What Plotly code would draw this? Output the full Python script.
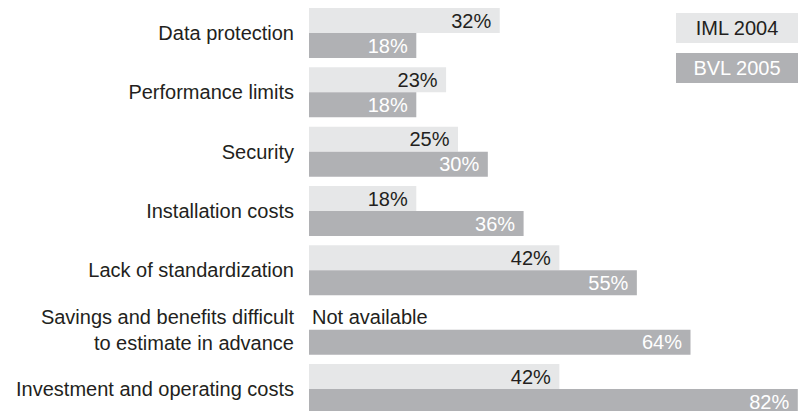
import plotly.graph_objects as go

categories = [
    "Data protection",
    "Performance limits",
    "Security",
    "Installation costs",
    "Lack of standardization",
    "Savings and benefits difficult<br>to estimate in advance",
    "Investment and operating costs",
]
iml_2004 = [32, 23, 25, 18, 42, None, 42]
bvl_2005 = [18, 18, 30, 36, 55, 64, 82]
series_names = ["IML 2004", "BVL 2005"]
missing_label = "Not available"

LIGHT = "#e6e7e8"
DARK = "#b0b1b4"
TEXT = "#231f20"
FONT = "Liberation Sans, Arial, Helvetica, sans-serif"
FS = 20

W, H = 799, 411
ML = 309

iml_vals = [v if v is not None else 0 for v in iml_2004]
iml_text = [f"{v}%\u00a0" if v is not None else missing_label for v in iml_2004]
iml_pos = ["inside" if v is not None else "outside" for v in iml_2004]

fig = go.Figure()
fig.add_trace(go.Bar(
    y=categories, x=iml_vals, orientation="h", name=series_names[0],
    marker=dict(color=LIGHT, line=dict(width=0)),
    text=iml_text, textposition=iml_pos, insidetextanchor="end",
    constraintext="none", cliponaxis=False,
    textfont=dict(family=FONT, size=FS, color=TEXT),
    insidetextfont=dict(family=FONT, size=FS, color=TEXT),
    outsidetextfont=dict(family=FONT, size=FS, color=TEXT),
    hoverinfo="skip",
))
fig.add_trace(go.Bar(
    y=categories, x=bvl_2005, orientation="h", name=series_names[1],
    marker=dict(color=DARK, line=dict(width=0)),
    text=[f"{v}%\u00a0" for v in bvl_2005], textposition="inside",
    insidetextanchor="end", constraintext="none",
    textfont=dict(family=FONT, size=FS, color="white"),
    insidetextfont=dict(family=FONT, size=FS, color="white"),
    hoverinfo="skip",
))

# category spacing: first group centre at 33px, last at 389px
spacing = (389 - 33) / 6
top_idx = -33 / spacing
bot_idx = top_idx + H / spacing

fig.update_layout(
    width=W, height=H,
    margin=dict(l=ML, r=0, t=0, b=0, pad=0),
    paper_bgcolor="white", plot_bgcolor="white",
    barmode="group", bargap=1 - 50 / spacing, bargroupgap=0,
    showlegend=False,
    font=dict(family=FONT, size=FS, color=TEXT),
    xaxis=dict(range=[0, 82.2], visible=False, fixedrange=True),
    yaxis=dict(
        type="category", range=[bot_idx, top_idx], autorange=False,
        showgrid=False, zeroline=False, showline=False,
        ticks="", ticklabelstandoff=14, automargin=False,
        tickfont=dict(family=FONT, size=FS, color=TEXT),
    ),
)

plot_w = W - ML
leg_x = (676 - ML) / plot_w
for name, bg, fg, yc in [(series_names[0], LIGHT, TEXT, 28), (series_names[1], DARK, "white", 68)]:
    fig.add_annotation(
        xref="paper", yref="paper", x=leg_x, y=1 - yc / H,
        xanchor="left", yanchor="middle", showarrow=False,
        text=name, width=122, height=30, borderpad=0, borderwidth=0,
        bgcolor=bg, font=dict(family=FONT, size=FS, color=fg), align="center",
    )

fig.write_html("out.html")
